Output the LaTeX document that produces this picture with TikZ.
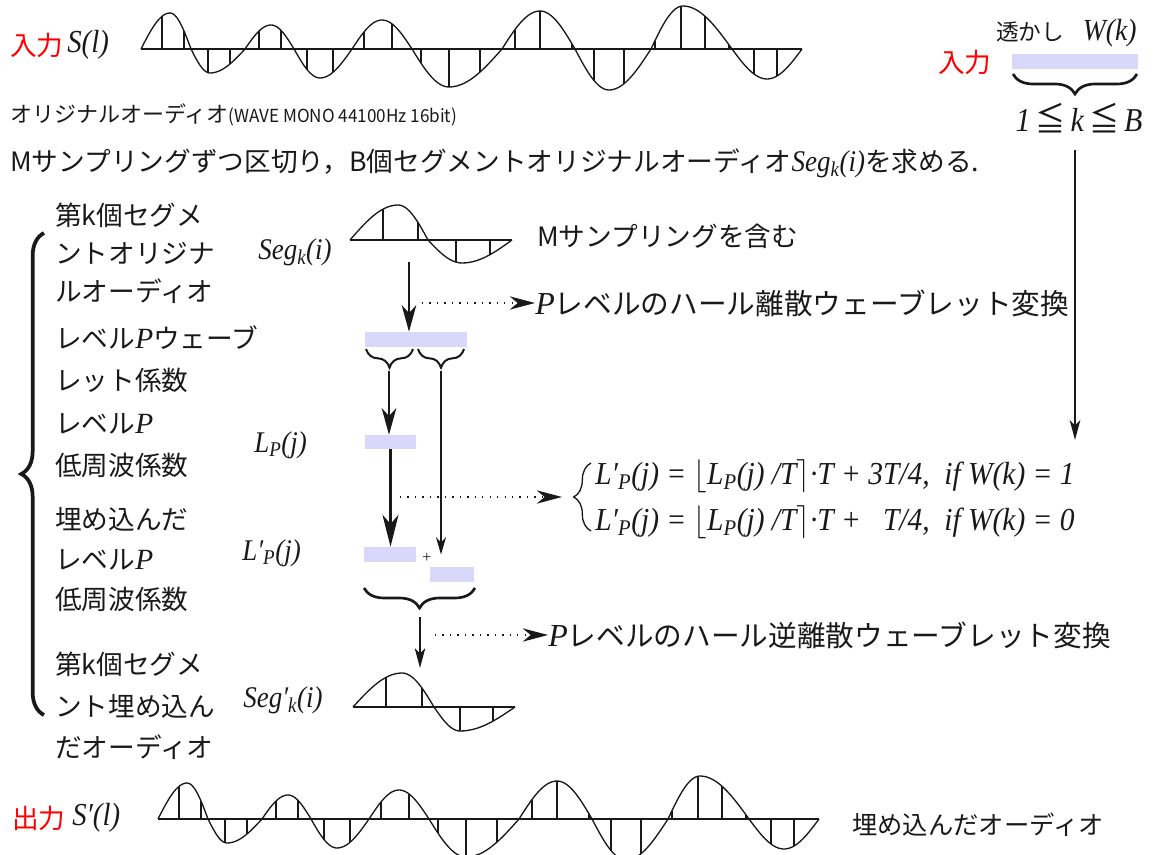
\documentclass[tikz,border=0pt]{standalone}
\usepackage{fontspec}
\usepackage{graphicx}
\setmainfont{Liberation Serif}
\newfontfamily\jp{Noto Sans CJK JP}
\usetikzlibrary{arrows.meta,decorations.pathreplacing}
\definecolor{barblue}{RGB}{216,216,250}
\definecolor{ink}{RGB}{25,25,25}
\newcommand\nar[1]{\scalebox{0.9}[1]{#1}}

\def\bigwave{0/29/50/36/{21,43}, 50/69/104/-24/{67,89}, 104/130/153/24/{118,140}, 153/179/211/-29/{166,192}, 211/241/271/29/{223,251}, 271/308/361/-38/{280,308,339}, 361/399/434/38/{374,399,431}, 434/468/510/-41/{453,483}, 510/542/591/43/{514,540,564,588}, 591/626/661/-30/{613,636}}
\def\segwave{0/48/78/35/{33,68}, 78/112/162/-23/{106,140}}
\def\segpwave{0/49/81/34/{33,69}, 81/107/162/-24/{107,140}}

\newcommand\drawwave[4]{%
  \draw[baseln] (#1,#2) -- ({#1+#3},#2);
  \foreach \la/\lm/\lb/\lh/\ls in #4 {%
    \draw[wavec] plot[domain=\la:\lm, samples=14, smooth] ({#1+\x},{#2-(\lh)*sin(90*(\x-\la)/(\lm-\la))})
      -- plot[domain=\lm:\lb, samples=14, smooth] ({#1+\x},{#2-(\lh)*cos(90*(\x-\lm)/(\lb-\lm))});
    \foreach \s in \ls {%
      \pgfmathsetmacro\hv{(\s<\lm) ? (\lh)*sin(90*(\s-\la)/(\lm-\la)) : (\lh)*cos(90*(\s-\lm)/(\lb-\lm))}%
      \draw[samp] ({#1+\s},#2) -- ({#1+\s},{#2-(\hv)});
    }%
  }%
}

\tikzset{
  wavec/.style={line width=1pt, ink},
  baseln/.style={line width=1.2pt, ink},
  samp/.style={line width=0.8pt, ink},
  bar/.style={fill=barblue, draw=none, inner sep=0pt},
  jt/.style={anchor=west, inner sep=0pt, text=ink, font={\jp\fontsize{20pt}{30pt}\selectfont}},
  mt/.style={anchor=west, inner sep=0pt, text=ink, font={\itshape\fontsize{22.5pt}{26pt}\selectfont}},
  lbl/.style={anchor=west, inner sep=0pt, text=ink, align=left},
  bigarr/.style={line width=1.1pt, ink, -{Stealth[length=20pt,width=11pt,inset=6pt]}},
  thickarr/.style={line width=1.8pt, ink, -{Stealth[length=24pt,width=12pt,inset=7pt]}},
  midarr/.style={line width=1.1pt, ink, -{Stealth[length=15pt,width=8pt,inset=4pt]}},
  thinarr/.style={line width=0.9pt, ink, -{Stealth[length=13pt,width=7.5pt,inset=4pt]}},
  dotarr/.style={line width=1pt, ink, dash pattern=on 1pt off 4.6pt, -{Stealth[length=19pt,width=10pt,inset=6pt]}},
  brc/.style={decorate, decoration={brace, amplitude=#1}, ink},
}

\begin{document}
\begin{tikzpicture}[x=0.75pt,y=-0.75pt]
\useasboundingbox (0,0) rectangle (1153,855);

% ---------- top: input audio ----------
\node[jt, text=red] (in1) at (10,45) {入力};
\node[mt, font={\itshape\fontsize{24pt}{28pt}\selectfont}] (sl) at (67,45) {\nar{S(l)}};
\drawwave{141}{49}{661}{\bigwave}
\node[jt, font={\jp\fontsize{16.5pt}{20pt}\selectfont}] (orig) at (10,115)
  {オリジナルオーディオ\scalebox{0.95}[1]{\fontsize{13.5pt}{16pt}\selectfont(WAVE MONO 44100Hz 16bit)}};
\node[jt] (mline) at (10,163)
  {Mサンプリングずつ区切り，B個セグメントオリジナルオーディオ{\rmfamily\itshape\fontsize{22.5pt}{26pt}\selectfont\nar{Seg\textsubscript{k}(i)}}を求める.};

% ---------- watermark ----------
\node[jt, font={\jp\fontsize{17pt}{20pt}\selectfont}] (wm) at (996,33)
  {透かし\hspace{14pt}{\rmfamily\itshape\fontsize{23pt}{26pt}\selectfont\nar{W(k)}}};
\node[jt, text=red] (in2) at (938,62) {入力};
\node[bar, minimum width=94.5pt, minimum height=11.25pt] (wbar) at (1075,61.5) {};
\draw[brc=15pt, line width=2pt] (1137,74) -- (1013,74);
\node[mt, anchor=center, font={\itshape\fontsize{25pt}{28pt}\selectfont}] (kb) at (1079,118)
  {\nar{1\,{\upshape\jp ≦}\,k\,{\upshape\jp ≦}\,B}};
\coordinate (rtop) at (1075,150);
\coordinate (rbot) at (1075,440);
\draw[midarr] (rtop) -- (rbot);

% ---------- left brace and labels ----------
\draw[brc=17pt, line width=2.8pt] (44,715) -- (44,233);
\node[lbl, font={\jp\fontsize{20pt}{28.5pt}\selectfont}] (g1) at (55,253)
  {第k個セグメ\\ントオリジナ\\ルオーディオ};
\node[lbl, font={\jp\fontsize{20pt}{31.5pt}\selectfont}] (g2) at (55,359)
  {レベル{\rmfamily\itshape\fontsize{22pt}{26pt}\selectfont P}ウェーブ\\レット係数};
\node[lbl, font={\jp\fontsize{20pt}{31.5pt}\selectfont}] (g3) at (55,446)
  {レベル{\rmfamily\itshape\fontsize{22pt}{26pt}\selectfont P}\\低周波係数};
\node[lbl, font={\jp\fontsize{20pt}{30pt}\selectfont}] (g4) at (55,560)
  {埋め込んだ\\レベル{\rmfamily\itshape\fontsize{22pt}{26pt}\selectfont P}\\低周波係数};
\node[lbl, font={\jp\fontsize{20pt}{31pt}\selectfont}] (g5) at (55,706)
  {第k個セグメ\\ント埋め込ん\\だオーディオ};

% ---------- segment and DWT ----------
\node[mt] (segl) at (258,252) {\nar{Seg\textsubscript{k}(i)}};
\drawwave{350}{240}{162}{\segwave}
\node[jt] (mincl) at (537,236) {Mサンプリングを含む};
\coordinate (segbot) at (409,262);
\node[bar, minimum width=76.5pt, minimum height=11.25pt] (b1) at (416,339.5) {};
\draw[bigarr] (segbot) -- (segbot |- b1.north);
\coordinate (d1s) at (422,303);
\node[jt, font={\jp\fontsize{21.5pt}{26pt}\selectfont}] (dwt) at (535,303)
  {{\rmfamily\itshape\fontsize{24pt}{26pt}\selectfont P}レベルのハール離散ウェーブレット変換};
\draw[dotarr] (d1s) -- (dwt.west);

\draw[brc=14pt, line width=1.5pt] (413,349) -- (366,349);
\draw[brc=14pt, line width=1.5pt] (464,349) -- (418,349);
\coordinate (t1) at (389,371);
\coordinate (t2) at (441,371);

\node[bar, minimum width=38.25pt, minimum height=10.5pt] (lp) at (390.5,442) {};
\draw[bigarr] (t1) -- (t1 |- lp.north);
\node[mt] (lpl) at (254,445) {\nar{L\textsubscript{P}(j)}};

\node[bar, minimum width=39pt, minimum height=11.25pt] (lpp) at (390,554.5) {};
\draw[thickarr] (lp.south) -- (lp.south |- lpp.north);
\node[bar, minimum width=33pt, minimum height=11.25pt] (hb) at (452,574.5) {};
\draw[thinarr] (t2) -- (t2 |- lpp.center);
\node[inner sep=0pt, text=ink, font={\fontsize{12pt}{12pt}\selectfont}] (plus) at (427,558) {+};
\node[mt] (lppl) at (242,553) {\nar{L′\textsubscript{P}(j)}};

% ---------- equations ----------
\coordinate (d2s) at (400,497);
\coordinate (eqtip) at (562,497);
\draw[dotarr] (d2s) -- (eqtip);
\draw[brc=13pt, line width=1pt] (591,531) -- (591,463);
\node[mt, font={\itshape\fontsize{24pt}{28pt}\selectfont}] (eq1) at (595,476)
  {\scalebox{0.92}[1]{L′\textsubscript{P}(j) = \(\lfloor\)L\textsubscript{P}(j) /T\(\rceil\)·T + 3T/4,\ \ if W(k) = 1}};
\node[mt, font={\itshape\fontsize{24pt}{28pt}\selectfont}] (eq2) at (595,522)
  {\scalebox{0.92}[1]{L′\textsubscript{P}(j) = \(\lfloor\)L\textsubscript{P}(j) /T\(\rceil\)·T + \phantom{3}T/4,\ \ if W(k) = 0}};

% ---------- inverse DWT ----------
\draw[brc=15pt, line width=2pt] (475,588) -- (364,588);
\coordinate (t3) at (420,617);
\coordinate (segp) at (420,668);
\draw[midarr] (t3) -- (segp);
\coordinate (d3s) at (435,635);
\node[jt, font={\jp\fontsize{21.5pt}{26pt}\selectfont}] (idwt) at (548,635)
  {{\rmfamily\itshape\fontsize{24pt}{26pt}\selectfont P}レベルのハール逆離散ウェーブレット変換};
\draw[dotarr] (d3s) -- (idwt.west);
\node[mt] (segpl) at (243,700) {\nar{Seg′\textsubscript{k}(i)}};
\drawwave{353}{707}{162}{\segpwave}

% ---------- output ----------
\node[jt, text=red] (out) at (12,818) {出力};
\node[mt, font={\itshape\fontsize{24pt}{28pt}\selectfont}] (spl) at (72,818) {\nar{S′(l)}};
\drawwave{158}{819}{661}{\bigwave}
\node[jt, font={\jp\fontsize{19pt}{24pt}\selectfont}] (emb) at (852,825) {埋め込んだオーディオ};
\end{tikzpicture}
\end{document}
